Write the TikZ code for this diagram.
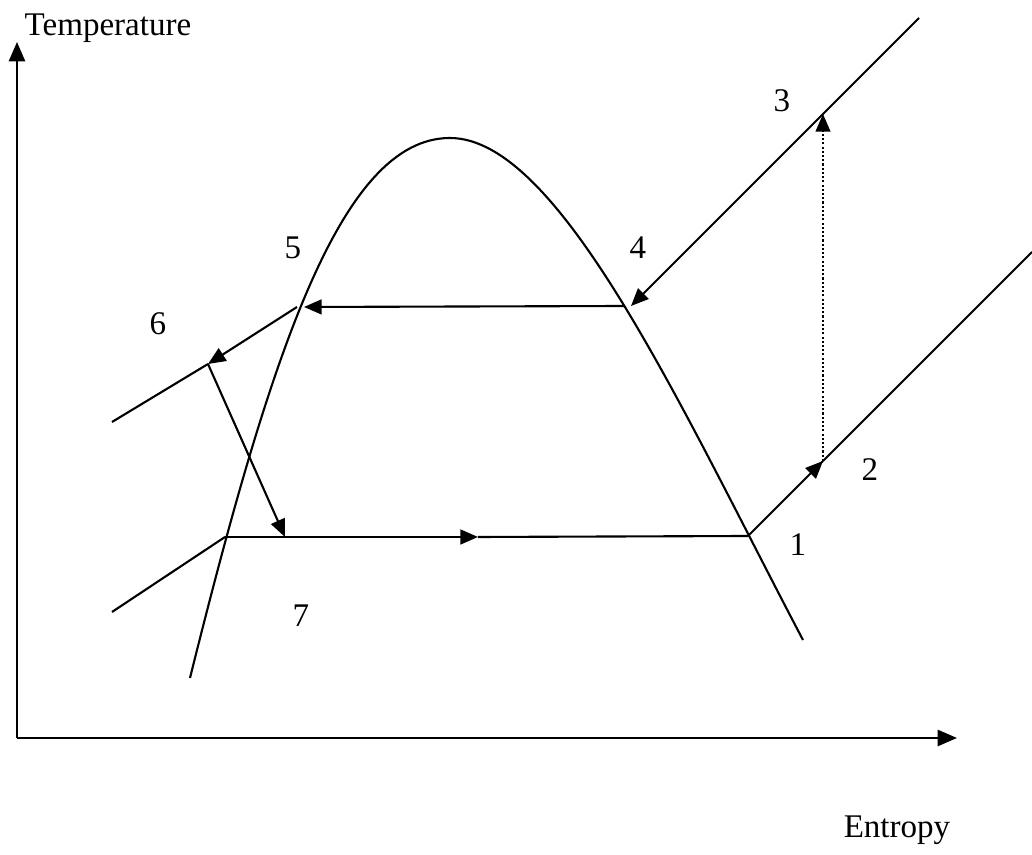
\documentclass[tikz,border=0pt]{standalone}
\usepackage{fontspec}
\setmainfont{Liberation Serif}
\usetikzlibrary{arrows.meta,calc}
\begin{document}
\begin{tikzpicture}[x=0.01cm,y=-0.01cm,
  ln/.style={line width=0.6pt},
  arr/.style={ln,-{Triangle[length=5pt,width=4.2pt]}},
  dots/.style={line width=0.45pt,dash pattern=on 0.6pt off 0.6pt,-{Triangle[length=5pt,width=4.2pt]}},
  lbl/.style={inner sep=0pt,font=\fontsize{9.4}{11}\selectfont}]
\useasboundingbox (0,0) rectangle (1032,855);
% axes
\coordinate (O) at (17,738);
\coordinate (ytop) at (17,42);
\coordinate (xend) at (957,738);
\draw[ln,-{Triangle[length=5.5pt,width=4.6pt]}] (O) -- (ytop);
\draw[ln,-{Triangle[length=5.5pt,width=4.6pt]}] (O) -- (xend);
\node[lbl,anchor=base west] (T) at (24,36) {Temperature};
\node[lbl] (S) at (897,830) {Entropy};
% dome
\coordinate (dL) at (190,678);
\coordinate (dTop) at (450,138);
\coordinate (dR) at (803,640);
\draw[ln] (dL) .. controls (270,357) and (340,138) .. (dTop)
               .. controls (560,138) and (682,410) .. (dR);
% points
\coordinate (p1) at (748,536);
\coordinate (p2) at (823,461);
\coordinate (p2end) at (1032,252);
\coordinate (p3) at (823,114);
\coordinate (p3end) at (919,18);
\coordinate (p4) at (625,306);
\coordinate (p4a) at (631,306);
\coordinate (p5) at (297,307);
\coordinate (p5a) at (304,307);
\coordinate (p6) at (208,364);
\coordinate (p6end) at (112,422);
\coordinate (p7) at (285,537);
\coordinate (p7s) at (225,537);
\coordinate (p7end) at (112,612);
\coordinate (mid) at (478,537);
% cycle
\draw[ln] (p1) -- (p2);
\draw[arr] ($(p1)!0.9!(p2)$) -- (p2);
\draw[ln] (p2) -- (p2end);
\draw[dots] (p2) -- (p3);
\draw[arr] (p3end) -- (p4a);
\draw[arr] (p4) -- (p5a);
\draw[arr] (p5) -- (p6);
\draw[ln] (p6) -- (p6end);
\draw[arr] (p6) -- (p7);
\draw[arr] (p7s) -- (mid);
\draw[ln] (mid) -- (p1);
\draw[ln] (p7s) -- (p7end);
% labels
\node[lbl] (l1) at (798,545) {1};
\node[lbl] (l2) at (870,470) {2};
\node[lbl] (l3) at (782,101) {3};
\node[lbl] (l4) at (638,248) {4};
\node[lbl] (l5) at (293,248) {5};
\node[lbl] (l6) at (158,324) {6};
\node[lbl] (l7) at (301,616) {7};
\end{tikzpicture}
\end{document}
